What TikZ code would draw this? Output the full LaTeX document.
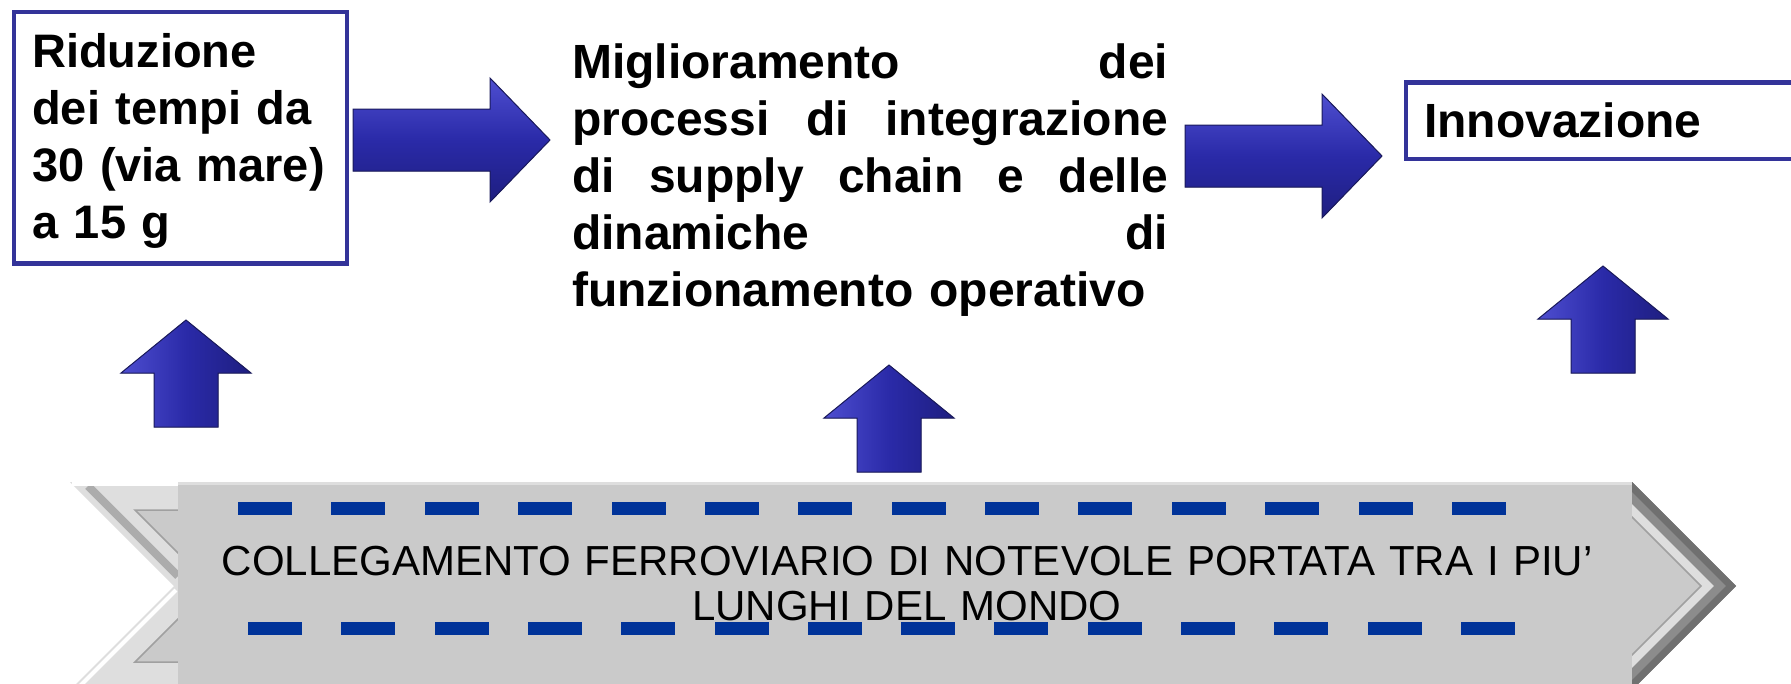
\documentclass[tikz,border=0pt]{standalone}
\usepackage{fontspec}
\setmainfont{Liberation Sans}

\definecolor{framecol}{RGB}{51,51,153}
\definecolor{arrowhi}{RGB}{78,78,208}
\definecolor{arrowmid}{RGB}{42,42,168}
\definecolor{arrowlo}{RGB}{30,30,128}
\definecolor{arrowedge}{RGB}{26,26,92}
\definecolor{bannergray}{RGB}{202,202,202}
\definecolor{bevelhi}{RGB}{222,222,222}
\definecolor{bevelmid}{RGB}{172,172,172}
\definecolor{bevellow}{RGB}{140,140,140}
\definecolor{beveldark}{RGB}{112,112,112}
\definecolor{bevelline}{RGB}{160,160,160}
\definecolor{dashblue}{RGB}{0,51,153}

\newcommand{\jline}[1]{\leavevmode\hbox to \hsize{\spaceskip=\fontdimen2\font plus 1fil\relax #1}}

\tikzset{
  framebox/.style={draw=framecol, line width=4.5, inner sep=0pt, anchor=north west},
  boldtxt/.style={font=\fontsize{48}{57.2}\selectfont\bfseries, inner sep=0pt,
    anchor=base west, align=left},
  bannertxt/.style={font=\fontsize{42}{45}\selectfont, inner sep=0pt,
    anchor=base, align=center, text width=1500},
  rblock/.pic={
    \filldraw[draw=arrowedge, line width=1, top color=arrowhi, bottom color=arrowlo,
      middle color=arrowmid]
      (0,-31) -- (137,-31) -- (137,-62) -- (197,0) -- (137,62) -- (137,31) -- (0,31) -- cycle;
  },
  ublock/.pic={
    \filldraw[draw=arrowedge, line width=1, left color=arrowhi, right color=arrowlo,
      middle color=arrowmid]
      (-32,0) -- (-32,-54) -- (-65,-54) -- (0,-107) -- (65,-54) -- (32,-54) -- (32,0) -- cycle;
  },
}

\begin{document}
\begin{tikzpicture}[x=1pt,y=-1pt]

  \useasboundingbox (0,0) rectangle (1791,683);
  \clip (0,0) rectangle (1791,683);

  % boxes
  \node[framebox, minimum width=333, minimum height=251.5] (riduzbox) at (11.5,9.5) {};
  \node[boldtxt, text width=300, font=\fontsize{47}{57}\selectfont\bfseries] (riduztext) at (32,67)
    {Riduzione\\dei tempi da\\30 (via mare)\\a 15 g};

  \node[boldtxt, text width=596] (migliortext) at (572,78)
    {\jline{Miglioramento dei}\\\jline{processi di integrazione}\\
     \jline{di supply chain e delle}\\\jline{dinamiche di}\\funzionamento operativo};

  \node[framebox, minimum width=420, minimum height=76.5] (innovbox) at (1403.5,80) {};
  \node[boldtxt] (innovtext) at (1424,137) {Innovazione};

  % block arrows
  \pic (arrowA) at (353,140) {rblock};
  \pic (arrowB) at (1185,156) {rblock};
  \pic (upA) at (186,427) {ublock};
  \pic (upB) at (889,472) {ublock};
  \pic (upC) at (1603,373) {ublock};

  % banner
  \fill[bevelhi] (70,482) -- (1632,482) -- (1736,586) -- (1632,690) -- (70,690) -- (174,586) -- cycle;
  \fill[bevellow] (1632,482) -- (1736,586) -- (1632,690) -- (1632,668) -- (1714,586) -- (1632,504) -- cycle;
  \fill[beveldark] (1632,482) -- (1736,586) -- (1632,690) -- (1632,680) -- (1726,586) -- (1632,492) -- cycle;
  \filldraw[fill=bannergray, draw=bevelline, line width=1.5]
    (135,510) -- (1625,510) -- (1701,586) -- (1625,662) -- (135,662) -- (211,586) -- cycle;
  \draw[bevelmid, line width=8] (88,486) -- (178,576);
  \draw[white, line width=4] (72,484) -- (178,484);
  \draw[white, line width=4] (176,590) -- (80,686);
  \fill[bannergray] (178,485) rectangle (1632,700);

  %rails
  \foreach \i in {0,...,13} {
    \fill[dashblue] ({238+93.38*\i},502) rectangle +(54,13);
    \fill[dashblue] ({248+93.3*\i},622) rectangle +(54,13);
  }

  \node[bannertxt] (collegtext) at (907,575)
    {COLLEGAMENTO FERROVIARIO DI NOTEVOLE PORTATA TRA I PIU’\\LUNGHI DEL MONDO};

\end{tikzpicture}
\end{document}
